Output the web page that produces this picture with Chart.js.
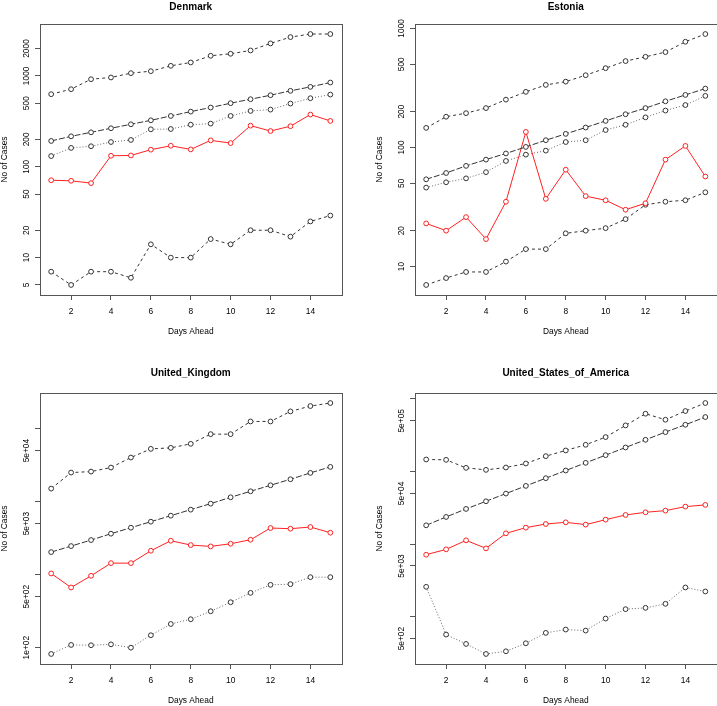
<!DOCTYPE html>
<html lang="en">
<head>
  <meta charset="UTF-8">
  <title>Cases Days Ahead</title>
  <script src="https://cdn.jsdelivr.net/npm/chart.js"></script>
  <style>
    body {
      margin: 0;
      background: white;
      width: 717px;
      height: 706px;
      overflow: hidden;
      position: relative;
    }
    canvas {
      position: absolute;
    }
  </style>
</head>
<body>
  <canvas id="denmark" width="358" height="359" style="left:0px;top:-6px"></canvas>
  <canvas id="estonia" width="358" height="359" style="left:375px;top:-6px"></canvas>
  <canvas id="uk" width="358" height="359" style="left:0px;top:363px"></canvas>
  <canvas id="usa" width="358" height="359" style="left:375px;top:363px"></canvas>

  <script>
    const days = [1, 2, 3, 4, 5, 6, 7, 8, 9, 10, 11, 12, 13, 14, 15];
    const xTicks = [2, 4, 6, 8, 10, 12, 14];

    // Denmark
    const denmarkHigh = [628, 713, 918, 959, 1070, 1125, 1289, 1403, 1662, 1749, 1902, 2274, 2669, 2883, 2883];
    const denmarkMid = [192, 216, 239, 265, 293, 324, 362, 404, 448, 500, 553, 612, 684, 756, 844];
    const denmarkLow = [131, 161, 168, 187, 197, 258, 260, 290, 298, 362, 411, 425, 495, 567, 622];
    const denmarkActual = [71, 70, 66, 132, 133, 154, 170, 155, 195, 182, 283, 247, 279, 375, 319];
    const denmarkMin = [7, 5, 7, 7, 6, 14, 10, 10, 16, 14, 20, 20, 17, 25, 29];
    const denmarkTicks = [5, 10, 20, 50, 100, 200, 500, 1000, 2000];
    const denmarkTickLabels = ["5", "10", "20", "50", "100", "200", "500", "1000", "2000"];

    // Estonia
    const estoniaHigh = [146, 181, 194, 214, 252, 293, 335, 357, 404, 463, 531, 577, 632, 772, 896];
    const estoniaMid = [54, 61, 70, 79, 89, 101, 115, 130, 147, 167, 190, 214, 244, 276, 312];
    const estoniaLow = [46, 51, 55, 62, 77, 87, 94, 111, 115, 140, 155, 179, 204, 227, 271];
    const estoniaActual = [23, 20, 26, 17, 35, 135, 37, 65, 39, 36, 30, 34, 79, 103, 57];
    const estoniaMin = [7, 8, 9, 9, 11, 14, 14, 19, 20, 21, 25, 33, 35, 36, 42];
    const estoniaTicks = [10, 20, 50, 100, 200, 500, 1000];
    const estoniaTickLabels = ["10", "20", "50", "100", "200", "500", "1000"];

    // United Kingdom
    const ukHigh = [15070, 25000, 25800, 29300, 40200, 52800, 54500, 61900, 84000, 84000, 125300, 125300, 172000, 203700, 224000];
    const ukMid = [2037, 2462, 2977, 3637, 4397, 5314, 6424, 7765, 9386, 11467, 13860, 16750, 20250, 24750, 29900];
    const ukActual = [1038, 667, 964, 1438, 1438, 2125, 2914, 2541, 2437, 2650, 3008, 4350, 4259, 4490, 3754];
    const ukLow = [82, 109, 108, 111, 100, 148, 211, 245, 315, 419, 563, 725, 741, 924, 924];
    const ukTicks = [100, 500, 1000, 5000, 10000, 50000, 100000];
    const ukTickLabels = ["1e+02", "5e+02", "", "5e+03", "", "5e+04", ""];

    // United States of America
    const usaHigh = [146500, 144900, 112400, 105400, 113600, 128900, 162800, 195000, 233500, 298000, 431700, 625600, 516700, 681000, 877700];
    const usaMid = [18160, 23670, 30530, 38920, 49700, 63400, 80900, 103200, 131700, 168000, 214400, 273600, 349200, 440700, 562600];
    const usaActual = [7145, 8470, 11270, 8740, 14090, 16860, 18930, 19970, 18550, 21740, 25210, 27460, 28950, 32870, 34670];
    const usaLow = [2583, 568, 422, 307, 334, 431, 599, 666, 645, 944, 1271, 1325, 1506, 2530, 2228];
    const usaTicks = [500, 1000, 5000, 10000, 50000, 100000, 500000, 1000000];
    const usaTickLabels = ["5e+02", "", "5e+03", "", "5e+04", "", "5e+05", ""];

    const FONT = "'Liberation Sans', Arial, Helvetica, sans-serif";
    const AXIS_SIZE = 8.4;
    Chart.defaults.font.family = FONT;
    Chart.defaults.color = "#000";

    const styles = {
      high: { color: "#333", dash: [3, 3] },
      mid: { color: "#333", dash: [6, 2] },
      low: { color: "#666", dash: [1, 2] },
      actual: { color: "#ff2020", dash: [] },
      min: { color: "#333", dash: [3, 3] }
    };

    // box around the plot region, like R's box()
    const boxPlugin = {
      id: "box",
      afterDatasetsDraw(chart) {
        const a = chart.chartArea;
        const ctx = chart.ctx;
        ctx.save();
        ctx.strokeStyle = "#555";
        ctx.lineWidth = 1;
        ctx.strokeRect(Math.round(a.left) + 0.5, Math.round(a.top) + 0.5,
          Math.round(a.width), Math.round(a.height));
        ctx.restore();
      }
    };

    function textWidth(labels) {
      const ctx = document.createElement("canvas").getContext("2d");
      ctx.font = AXIS_SIZE + "px " + FONT;
      return Math.max(...labels.map(l => ctx.measureText(l).width));
    }

    function series(values, style) {
      const s = styles[style];
      return {
        data: days.map((d, i) => ({ x: d, y: values[i] })),
        borderColor: s.color,
        borderWidth: 1,
        borderDash: s.dash,
        pointRadius: 2.4,
        pointBorderWidth: 1,
        pointBorderColor: style === "actual" ? s.color : "#333",
        pointBackgroundColor: "#fff",
        fill: false,
        tension: 0
      };
    }

    function drawPanel(id, title, titlePad, datasets, tickVals, tickLabels) {
      // R style axis limits: data range plus 4% on the log scale
      const all = datasets.flatMap(d => d.data.map(p => Math.log10(p.y)));
      const lo = Math.min(...all), hi = Math.max(...all);
      const pad = 0.04 * (hi - lo);
      const labelPad = 8 - textWidth(tickLabels) / 2;

      new Chart(document.getElementById(id), {
        type: "line",
        data: { datasets: datasets },
        plugins: [boxPlugin],
        options: {
          responsive: false,
          animation: false,
          layout: { padding: { left: 0, right: 16.5, top: 0, bottom: 0 } },
          plugins: {
            legend: { display: false },
            tooltip: { enabled: false },
            title: {
              display: true,
              text: title,
              fullSize: false,
              font: { size: 10, weight: "bold" },
              padding: titlePad
            }
          },
          scales: {
            x: {
              type: "linear",
              min: 1 - 0.56,
              max: 15 + 0.56,
              afterBuildTicks: s => { s.ticks = xTicks.map(v => ({ value: v })); },
              afterFit: s => { s.height = 58; },
              ticks: { autoSkip: false, maxRotation: 0, padding: 6.6, font: { size: AXIS_SIZE }, callback: v => String(v) },
              grid: { drawOnChartArea: false, tickLength: 5, color: "#555" },
              border: { display: false },
              title: { display: true, text: "Days Ahead", font: { size: AXIS_SIZE }, padding: { top: 0, bottom: 16.3 } }
            },
            y: {
              type: "logarithmic",
              min: Math.pow(10, lo - pad),
              max: Math.pow(10, hi + pad),
              afterBuildTicks: s => { s.ticks = tickVals.map(v => ({ value: v })); },
              afterFit: s => { s.width = 40; },
              ticks: {
                autoSkip: false,
                minRotation: 90,
                maxRotation: 90,
                crossAlign: "center",
                padding: labelPad,
                font: { size: AXIS_SIZE },
                callback: (v, i) => tickLabels[i]
              },
              grid: { drawOnChartArea: false, tickLength: 5, color: "#555" },
              border: { display: false },
              title: { display: true, text: "No of Cases", font: { size: AXIS_SIZE }, padding: { top: 0, bottom: 0 } }
            }
          }
        }
      });
    }

    const topRowPad = { top: 7.5, bottom: 10.5 };
    const bottomRowPad = { top: 4, bottom: 14 };

    drawPanel("denmark", "Denmark", topRowPad, [
      series(denmarkHigh, "high"),
      series(denmarkMid, "mid"),
      series(denmarkLow, "low"),
      series(denmarkActual, "actual"),
      series(denmarkMin, "min")
    ], denmarkTicks, denmarkTickLabels);

    drawPanel("estonia", "Estonia", topRowPad, [
      series(estoniaHigh, "high"),
      series(estoniaMid, "mid"),
      series(estoniaLow, "low"),
      series(estoniaActual, "actual"),
      series(estoniaMin, "min")
    ], estoniaTicks, estoniaTickLabels);

    drawPanel("uk", "United_Kingdom", bottomRowPad, [
      series(ukHigh, "high"),
      series(ukMid, "mid"),
      series(ukActual, "actual"),
      series(ukLow, "low")
    ], ukTicks, ukTickLabels);

    drawPanel("usa", "United_States_of_America", bottomRowPad, [
      series(usaHigh, "high"),
      series(usaMid, "mid"),
      series(usaActual, "actual"),
      series(usaLow, "low")
    ], usaTicks, usaTickLabels);
  </script>
</body>
</html>
